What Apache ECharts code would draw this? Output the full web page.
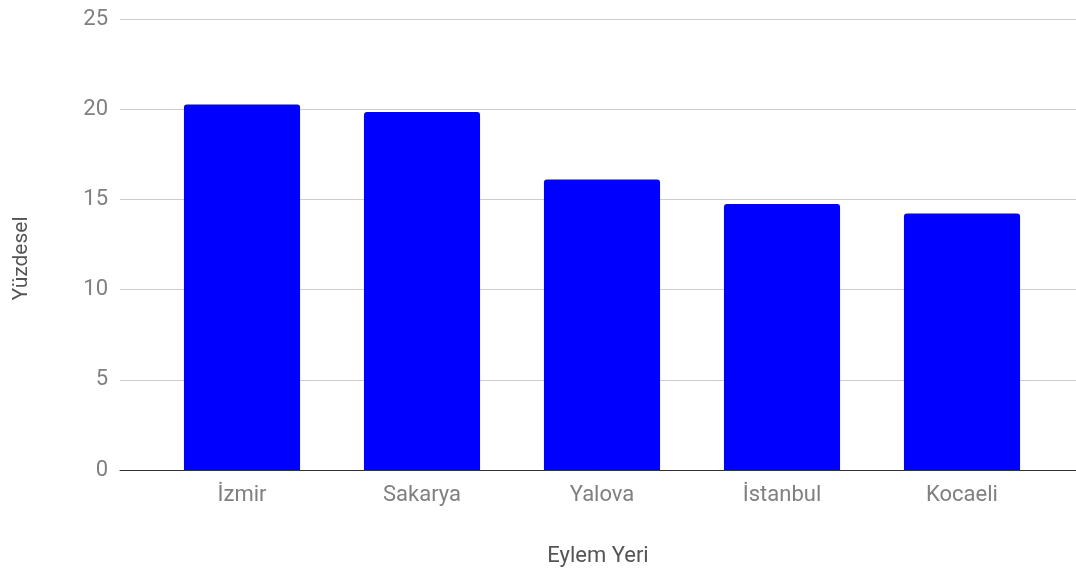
<!DOCTYPE html>
<html>
<head>
<meta charset="utf-8">
<script src="https://cdn.jsdelivr.net/npm/echarts@6/dist/echarts.min.js"></script>
<style>
  html, body { margin: 0; padding: 0; background: #fff; }
  #chart { width: 1076px; height: 572px; }
</style>
</head>
<body>
<div id="chart"></div>
<script>
  // kategoriler ve degerler
  var categories = ['İzmir', 'Sakarya', 'Yalova', 'İstanbul', 'Kocaeli'];
  var values = [20.26, 19.85, 16.1, 14.74, 14.22];
  var yTicks = [0, 5, 10, 15, 20, 25];

  var chart = echarts.init(document.getElementById('chart'));
  var font = 'Roboto, "Noto Sans", sans-serif';

  var option = {
    animation: false,
    textStyle: { fontFamily: font },
    grid: [
      // arka plan: y ekseni + cizgiler, tam genislik
      { left: 120, right: 0, top: 19, bottom: 102 },
      // cubuklar
      { left: 152, right: 24, top: 19, bottom: 102 }
    ],
    xAxis: [
      {
        type: 'value', gridIndex: 0, min: 0, max: 1,
        axisLine: { show: true, lineStyle: { color: '#333', width: 1 } },
        axisTick: { show: false }, axisLabel: { show: false },
        splitLine: { show: false },
        name: 'Eylem Yeri', nameLocation: 'middle', nameGap: 75,
        nameTextStyle: { color: '#555', fontSize: 22, fontFamily: font }
      },
      {
        type: 'category', gridIndex: 1, data: categories,
        axisLine: { show: false }, axisTick: { show: false },
        axisLabel: { color: '#808080', fontSize: 22, margin: 14, fontFamily: font }
      }
    ],
    yAxis: [
      {
        type: 'value', gridIndex: 0, min: yTicks[0], max: yTicks[yTicks.length - 1], interval: 5,
        axisLine: { show: false }, axisTick: { show: false },
        axisLabel: { color: '#808080', fontSize: 22, margin: 12, fontFamily: font },
        splitLine: { lineStyle: { color: '#cccccc', width: 1 } },
        name: 'Yüzdesel', nameLocation: 'middle', nameGap: 88, nameRotate: 90,
        nameTextStyle: { color: '#555', fontSize: 21, fontFamily: font, padding: [0, 28, 0, 0] }
      },
      {
        type: 'value', gridIndex: 1, min: 0, max: 25, interval: 5, show: false
      }
    ],
    series: [
      {
        type: 'bar', xAxisIndex: 1, yAxisIndex: 1,
        data: values,
        barWidth: '64.5%',
        itemStyle: { color: '#0000ff', borderRadius: [3, 3, 0, 0] }
      }
    ]
  };

  chart.setOption(option);
  window.addEventListener('resize', function () { chart.resize(); });
</script>
</body>
</html>
